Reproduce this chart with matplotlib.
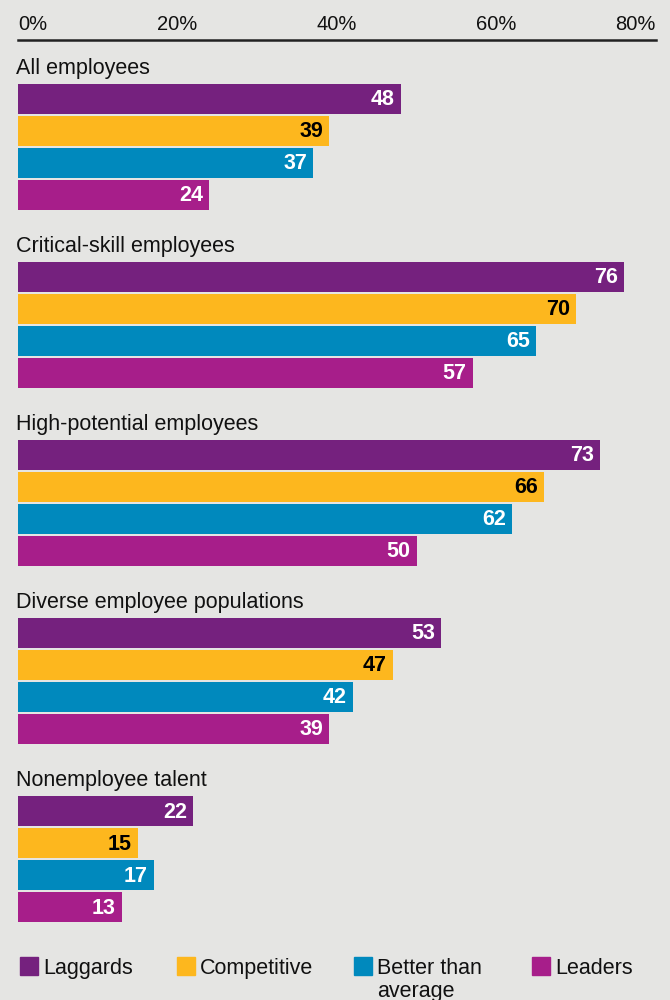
import matplotlib.pyplot as plt
from matplotlib.patches import Rectangle

plt.rcParams['font.family'] = ['Liberation Sans', 'DejaVu Sans']

groups = ['All employees', 'Critical-skill employees', 'High-potential employees',
          'Diverse employee populations', 'Nonemployee talent']
series = ['Laggards', 'Competitive', 'Better than\naverage', 'Leaders']
colors = ['#75217E', '#FDB71E', '#0089BD', '#A71E8A']
label_colors = ['white', 'black', 'white', 'white']

laggards = [48, 76, 73, 53, 22]
competitive = [39, 70, 66, 47, 15]
better = [37, 65, 62, 42, 17]
leaders = [24, 57, 50, 39, 13]
values = [laggards, competitive, better, leaders]

xticks = [0, 20, 40, 60, 80]
xticklabels = ['0%', '20%', '40%', '60%', '80%']

bg = '#E5E5E3'
fig = plt.figure(figsize=(6.7, 10), dpi=100, facecolor=bg)
# axes spans x 18..656 px, y 40..930 px
ax = fig.add_axes([18/670, 70/1000, 638/670, 890/1000])
ax.set_facecolor(bg)

group_step = 5.5625
first_top = 1.375
bar_h = 0.94

for i, g in enumerate(groups):
    top = first_top + i * group_step
    ax.text(-0.25, top - 0.5, g, fontsize=15.5, va='center', ha='left', color='#111111')
    for j in range(4):
        v = values[j][i]
        yc = top + j + bar_h / 2
        ax.barh(yc, v, height=bar_h, color=colors[j], left=0)
        ax.text(v - 0.75, yc + 0.02, str(v), ha='right', va='center', fontsize=15.5,
                fontweight='bold', color=label_colors[j])

ax.set_xlim(0, 80)
ax.set_ylim(27.8, 0)
ax.xaxis.tick_top()
ax.set_xticks(xticks)
ax.set_xticklabels(xticklabels, fontsize=14.5, color='#111111')
ax.tick_params(axis='x', length=0, pad=4)
labs = ax.get_xticklabels()
labs[0].set_ha('left')
labs[-1].set_ha('right')
ax.set_yticks([])
for s in ['bottom', 'left', 'right']:
    ax.spines[s].set_visible(False)
ax.spines['top'].set_color('#222222')
ax.spines['top'].set_linewidth(1.8)

# legend drawn manually
leg_x = [20, 177, 354, 532]
for k in range(4):
    x0 = leg_x[k] / 670
    fig.patches.append(Rectangle((x0, 1 - 975/1000), 18/670, 18/1000,
                                 transform=fig.transFigure, color=colors[k]))
    fig.text(x0 + 23/670, 1 - 958/1000, series[k], fontsize=15.5, va='top',
             ha='left', color='#111111', linespacing=1.12)

fig.savefig('out.png', dpi=100, facecolor=bg)
